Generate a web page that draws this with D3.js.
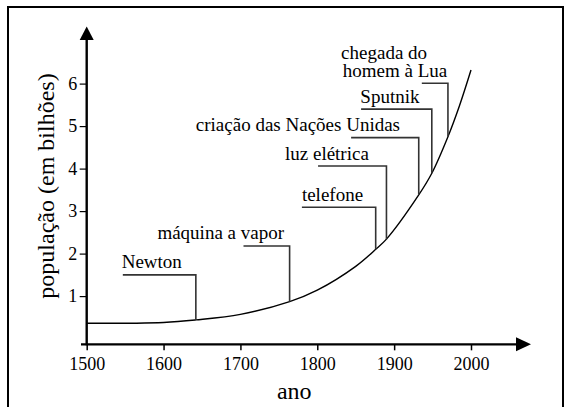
<!DOCTYPE html>
<html>
<head>
<meta charset="utf-8">
<script src="https://cdn.jsdelivr.net/npm/d3@7"></script>
<style>
  body { margin: 0; background: #fff; }
  svg text { font-family: 'Liberation Serif', 'Times New Roman', Times, 'DejaVu Serif', serif; fill: #000; }
</style>
</head>
<body>
<script>
// 画布
const width = 568;
const height = 407;
const serif = "'Liberation Serif', 'Times New Roman', Times, 'DejaVu Serif', serif";

// 数据：年份与人口（十亿）
const years = [1500, 1600, 1642, 1700, 1764, 1800, 1850, 1876, 1890, 1932, 1949, 1970, 1985, 2000];
const population = [0.36, 0.38, 0.44, 0.57, 0.87, 1.14, 1.70, 2.10, 2.34, 3.38, 3.89, 4.75, 5.48, 6.32];

// 事件
const events = ["Newton", "máquina a vapor", "telefone", "luz elétrica", "criação das Nações Unidas", "Sputnik", "chegada do\nhomem à Lua"];
const eventYears = [1642, 1764, 1876, 1890, 1932, 1949, 1970];

// 刻度
const xTicks = [1500, 1600, 1700, 1800, 1900, 2000];
const yTicks = [1, 2, 3, 4, 5, 6];

// 标注的排版（数据坐标）：横线高度、横线起点、文字起点
const shelfLevel = [1.50, 2.18, 3.09, 4.06, 4.73, 5.40, 6.01];
const shelfFrom = [1547, 1704, 1780, 1801, 1844, 1857, 1936];
const textFrom = [1545.5, 1592, 1780, 1758, 1642, 1856, 1831];

// 比例尺
const x = d3.scaleLinear().domain([1500, 2000]).range([86.7, 471]);
const y = d3.scaleLinear().domain([0, 6]).range([338.6, 83.6]);

const axisY = y(-0.135);   // x轴所在的位置
const axisX = x(1500);

let svg = d3.select('body')
    .append('svg')
    .attr('width', width)
    .attr('height', height);

// 外框
svg.append('rect')
    .attr('x', 8).attr('y', 7)
    .attr('width', 555).attr('height', 420)
    .attr('fill', 'none')
    .attr('stroke', '#000')
    .attr('stroke-width', 2);

// x轴
const xAxis = d3.axisBottom(x)
    .tickValues(xTicks)
    .tickFormat(d3.format('d'))
    .tickSize(6)
    .tickPadding(7);

const gx = svg.append('g')
    .attr('transform', 'translate(0,' + axisY + ')')
    .call(xAxis)
    .attr('font-family', serif)
    .attr('font-size', 18);
gx.select('.domain').remove();
gx.selectAll('line').attr('stroke', '#000').attr('stroke-width', 1.5);

// y轴
const yAxis = d3.axisLeft(y)
    .tickValues(yTicks)
    .tickFormat(d3.format('d'))
    .tickSize(7)
    .tickPadding(2.5);

const gy = svg.append('g')
    .attr('transform', 'translate(' + axisX + ',0)')
    .call(yAxis)
    .attr('font-family', serif)
    .attr('font-size', 18);
gy.select('.domain').remove();
gy.selectAll('line').attr('stroke', '#000').attr('stroke-width', 1.2);

// 轴线与箭头
svg.append('line')
    .attr('x1', 81).attr('x2', 517)
    .attr('y1', axisY).attr('y2', axisY)
    .attr('stroke', '#000').attr('stroke-width', 2.4);
svg.append('path')
    .attr('d', 'M516,' + (axisY - 7) + 'L531,' + axisY + 'L516,' + (axisY + 7) + 'Z')
    .attr('fill', '#000');

svg.append('line')
    .attr('x1', axisX).attr('x2', axisX)
    .attr('y1', axisY + 1).attr('y2', 39)
    .attr('stroke', '#000').attr('stroke-width', 2.4);
svg.append('path')
    .attr('d', 'M' + (axisX - 7) + ',40L' + axisX + ',26.5L' + (axisX + 7) + ',40Z')
    .attr('fill', '#000');

// 轴标题
svg.append('text')
    .attr('x', x(1770))
    .attr('y', 399)
    .attr('text-anchor', 'middle')
    .attr('font-family', serif)
    .attr('font-size', 24)
    .text('ano');

svg.append('text')
    .attr('transform', 'translate(54,186) rotate(-90)')
    .attr('text-anchor', 'middle')
    .attr('font-family', serif)
    .attr('font-size', 24)
    .text('população (em bilhões)');

// 人口曲线
const line = d3.line()
    .x((d, i) => x(years[i]))
    .y(d => y(d))
    .curve(d3.curveCatmullRom.alpha(0.5));

svg.append('path')
    .datum(population)
    .attr('d', line)
    .attr('fill', 'none')
    .attr('stroke', '#000')
    .attr('stroke-width', 1.4);

// 某年的人口（线性插值）
const popAt = (yr) => {
  const i = d3.bisectLeft(years, yr);
  if (years[i] === yr) return population[i];
  const t = (yr - years[i - 1]) / (years[i] - years[i - 1]);
  return population[i - 1] + t * (population[i] - population[i - 1]);
};

// 标注
events.forEach((name, i) => {
  const sy = y(shelfLevel[i]);
  svg.append('path')
      .attr('d', 'M' + x(shelfFrom[i]) + ',' + sy +
                 'H' + x(eventYears[i]) +
                 'V' + y(popAt(eventYears[i])))
      .attr('fill', 'none')
      .attr('stroke', '#333')
      .attr('stroke-width', 1.6);

  const lines = name.split('\n');
  lines.forEach((t, j) => {
    svg.append('text')
        .attr('x', x(textFrom[i]) + j * 1.7)
        .attr('y', sy - 6.5 - (lines.length - 1 - j) * 17.2)
        .attr('font-family', serif)
        .attr('font-size', 19)
        .text(t);
  });
});
</script>
</body>
</html>
